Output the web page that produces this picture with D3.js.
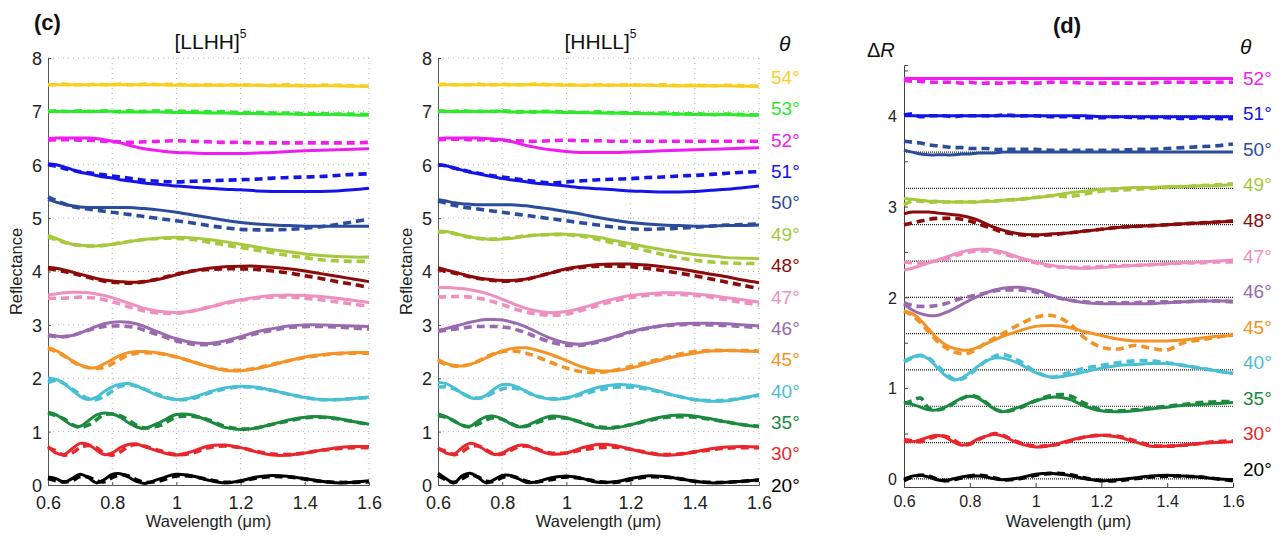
<!DOCTYPE html>
<html>
<head>
<meta charset="utf-8">
<script src="https://cdn.jsdelivr.net/npm/d3@7"></script>
<style>
  body { margin: 0; background: #fff; }
  svg { font-family: "Liberation Sans", Arial, sans-serif; }
</style>
</head>
<body>
<svg id="chart" width="1285" height="536"></svg>
<script>
// wavelength grid (um) shared by every curve
var wl = [0.6,0.625,0.65,0.675,0.7,0.725,0.75,0.775,0.8,0.825,0.85,0.875,0.9,0.95,1.0,1.05,1.1,1.15,1.2,1.25,1.3,1.35,1.4,1.45,1.5,1.55,1.6];

var anglesC = ["54°","53°","52°","51°","50°","49°","48°","47°","46°","45°","40°","35°","30°","20°"];
var colorsC = ["#f7cf1e","#2ee82e","#f01cf0","#1414e6","#2b4c9a","#a6c83c","#8b0a0a","#ee8fc0","#9a6aae","#f39325","#48bfd3","#1b8a3f","#e8262b","#000000"];
var anglesD = ["52°","51°","50°","49°","48°","47°","46°","45°","40°","35°","30°","20°"];
var colorsD = colorsC.slice(2);
var refD = [4.4,4.0,3.6,3.2,2.8,2.4,2.0,1.6,1.2,0.8,0.4,0];

var yTicksC = [0,1,2,3,4,5,6,7,8];
var xTicks = [0.6,0.8,1.0,1.2,1.4,1.6];
var yTicksD = [0,0.5,1,1.5,2,2.5,3,3.5,4,4.5];
var yLabelsD = [0,1,2,3,4];

// ---- (c) [LLHH]^5 : fit (solid) and measured (dashed)
var L54f = [7.50,7.50,7.50,7.50,7.50,7.50,7.50,7.50,7.50,7.50,7.50,7.50,7.50,7.50,7.49,7.49,7.49,7.49,7.49,7.49,7.48,7.48,7.48,7.48,7.48,7.47,7.47];
var L54m = [7.50,7.50,7.51,7.50,7.50,7.50,7.51,7.50,7.50,7.51,7.50,7.50,7.51,7.50,7.51,7.49,7.50,7.49,7.50,7.49,7.49,7.50,7.48,7.49,7.49,7.48,7.47];
var L53f = [7.00,7.00,7.00,7.00,7.00,7.00,7.00,7.00,7.00,6.99,6.99,6.99,6.99,6.99,6.98,6.98,6.97,6.97,6.96,6.96,6.95,6.95,6.94,6.94,6.94,6.93,6.93];
var L53m = [7.00,7.01,7.00,7.00,7.01,7.00,7.00,7.01,7.00,7.00,7.01,7.00,7.00,7.01,7.00,7.00,6.99,6.99,6.98,6.98,6.97,6.97,6.96,6.96,6.95,6.95,6.94];
var L52f = [6.49,6.50,6.50,6.50,6.50,6.50,6.49,6.47,6.44,6.41,6.37,6.33,6.30,6.26,6.23,6.22,6.21,6.21,6.21,6.22,6.23,6.25,6.26,6.27,6.28,6.29,6.30];
var L52m = [6.46,6.47,6.47,6.47,6.46,6.46,6.45,6.44,6.43,6.43,6.42,6.42,6.43,6.44,6.45,6.44,6.43,6.42,6.42,6.41,6.41,6.41,6.41,6.41,6.41,6.41,6.42];
var L51f = [6.02,6.00,5.96,5.91,5.86,5.83,5.80,5.77,5.75,5.72,5.70,5.68,5.66,5.63,5.60,5.58,5.56,5.54,5.53,5.51,5.50,5.50,5.50,5.50,5.51,5.53,5.56];
var L51m = [6.00,5.97,5.93,5.90,5.87,5.85,5.83,5.81,5.79,5.77,5.75,5.73,5.71,5.69,5.68,5.69,5.70,5.71,5.72,5.73,5.75,5.76,5.77,5.78,5.80,5.82,5.83];
var L50f = [5.35,5.30,5.26,5.23,5.21,5.20,5.20,5.20,5.20,5.20,5.20,5.19,5.18,5.15,5.11,5.06,5.01,4.96,4.92,4.89,4.87,4.86,4.85,4.85,4.85,4.85,4.85];
var L50m = [5.40,5.33,5.27,5.22,5.19,5.17,5.15,5.13,5.11,5.09,5.07,5.05,5.03,4.99,4.95,4.91,4.86,4.82,4.79,4.78,4.78,4.79,4.81,4.84,4.88,4.93,4.98];
var L49f = [4.68,4.62,4.56,4.51,4.49,4.48,4.48,4.49,4.51,4.53,4.56,4.58,4.60,4.63,4.64,4.63,4.60,4.56,4.51,4.46,4.41,4.37,4.33,4.30,4.28,4.27,4.27];
var L49m = [4.64,4.60,4.55,4.51,4.49,4.48,4.48,4.49,4.51,4.54,4.56,4.58,4.60,4.62,4.62,4.60,4.55,4.50,4.45,4.40,4.35,4.30,4.26,4.22,4.20,4.19,4.19];
var L48f = [4.08,4.06,4.03,3.99,3.95,3.91,3.87,3.84,3.82,3.81,3.80,3.80,3.81,3.86,3.94,4.01,4.06,4.09,4.10,4.10,4.08,4.05,4.01,3.96,3.91,3.86,3.81];
var L48m = [4.05,4.03,4.00,3.97,3.93,3.89,3.85,3.82,3.80,3.79,3.78,3.79,3.81,3.87,3.95,4.01,4.04,4.05,4.05,4.04,4.01,3.97,3.92,3.87,3.81,3.76,3.70];
var L47f = [3.56,3.58,3.60,3.61,3.61,3.60,3.58,3.55,3.51,3.46,3.41,3.36,3.31,3.25,3.23,3.26,3.33,3.41,3.47,3.52,3.55,3.56,3.55,3.53,3.50,3.46,3.42];
var L47m = [3.50,3.50,3.50,3.51,3.52,3.51,3.50,3.47,3.43,3.39,3.34,3.30,3.26,3.22,3.22,3.26,3.33,3.40,3.46,3.50,3.52,3.52,3.50,3.47,3.43,3.39,3.35];
var L46f = [2.82,2.79,2.78,2.80,2.85,2.91,2.97,3.02,3.05,3.06,3.05,3.02,2.97,2.85,2.74,2.67,2.65,2.70,2.78,2.87,2.93,2.98,3.00,3.00,2.99,2.98,2.97];
var L46m = [2.80,2.78,2.78,2.80,2.85,2.90,2.94,2.97,2.98,2.98,2.97,2.95,2.90,2.80,2.70,2.64,2.63,2.67,2.75,2.84,2.90,2.95,2.97,2.97,2.96,2.94,2.92];
var L45f = [2.58,2.52,2.43,2.33,2.25,2.20,2.20,2.27,2.35,2.43,2.48,2.50,2.50,2.47,2.40,2.31,2.22,2.15,2.14,2.18,2.25,2.33,2.40,2.44,2.47,2.48,2.48];
var L45m = [2.55,2.50,2.42,2.32,2.24,2.20,2.19,2.20,2.27,2.36,2.43,2.47,2.48,2.46,2.40,2.31,2.22,2.16,2.15,2.19,2.26,2.33,2.39,2.43,2.46,2.47,2.47];
var L40f = [2.00,1.98,1.90,1.78,1.66,1.60,1.64,1.75,1.84,1.89,1.90,1.86,1.79,1.66,1.60,1.64,1.74,1.82,1.85,1.83,1.77,1.70,1.64,1.60,1.60,1.62,1.65];
var L40m = [1.92,1.96,1.90,1.80,1.70,1.62,1.60,1.66,1.76,1.85,1.88,1.85,1.80,1.68,1.60,1.62,1.72,1.80,1.84,1.82,1.77,1.70,1.64,1.60,1.60,1.62,1.64];
var L35f = [1.37,1.32,1.22,1.12,1.10,1.20,1.31,1.35,1.33,1.27,1.17,1.09,1.06,1.18,1.32,1.31,1.20,1.08,1.04,1.07,1.14,1.22,1.27,1.28,1.25,1.19,1.14];
var L35m = [1.35,1.30,1.24,1.13,1.08,1.12,1.22,1.32,1.33,1.30,1.22,1.12,1.07,1.12,1.27,1.29,1.22,1.10,1.05,1.07,1.14,1.20,1.26,1.27,1.24,1.19,1.13];
var L30f = [0.72,0.60,0.57,0.68,0.78,0.76,0.66,0.57,0.60,0.70,0.76,0.77,0.72,0.62,0.56,0.63,0.73,0.75,0.70,0.62,0.56,0.56,0.60,0.65,0.70,0.72,0.72];
var L30m = [0.70,0.64,0.56,0.60,0.70,0.74,0.70,0.60,0.56,0.62,0.72,0.76,0.73,0.64,0.57,0.60,0.70,0.73,0.70,0.63,0.58,0.57,0.60,0.65,0.68,0.70,0.70];
var L20f = [0.15,0.12,0.05,0.12,0.20,0.14,0.04,0.10,0.20,0.21,0.15,0.07,0.03,0.12,0.20,0.17,0.09,0.04,0.08,0.15,0.18,0.16,0.12,0.07,0.04,0.05,0.08];
var L20m = [0.12,0.08,0.06,0.08,0.16,0.15,0.08,0.06,0.14,0.19,0.17,0.10,0.05,0.08,0.17,0.16,0.10,0.05,0.07,0.13,0.16,0.15,0.11,0.07,0.05,0.05,0.06];

// ---- (c) [HHLL]^5
var H54f = L54f;
var H54m = [7.50,7.51,7.50,7.50,7.50,7.51,7.50,7.50,7.51,7.50,7.50,7.50,7.51,7.50,7.50,7.49,7.50,7.49,7.50,7.49,7.50,7.48,7.49,7.48,7.49,7.48,7.47];
var H53f = L53f;
var H53m = [7.01,7.00,7.00,7.01,7.00,7.00,7.00,7.00,7.01,7.00,6.99,7.00,6.99,7.00,6.99,6.98,6.99,6.97,6.98,6.96,6.97,6.95,6.96,6.94,6.95,6.94,6.93];
var H52f = [6.49,6.50,6.50,6.50,6.50,6.50,6.49,6.48,6.47,6.44,6.40,6.36,6.33,6.28,6.25,6.23,6.23,6.23,6.24,6.25,6.26,6.27,6.28,6.29,6.30,6.31,6.32];
var H52m = [6.47,6.48,6.48,6.48,6.47,6.47,6.47,6.46,6.46,6.45,6.45,6.44,6.44,6.45,6.46,6.45,6.45,6.44,6.44,6.44,6.44,6.44,6.44,6.44,6.44,6.44,6.44];
var H51f = [6.00,5.98,5.94,5.90,5.86,5.83,5.80,5.77,5.74,5.72,5.70,5.68,5.66,5.63,5.60,5.57,5.55,5.53,5.51,5.50,5.49,5.49,5.50,5.52,5.54,5.57,5.60];
var H51m = [6.00,5.98,5.94,5.90,5.87,5.84,5.81,5.79,5.77,5.75,5.73,5.71,5.69,5.66,5.68,5.70,5.72,5.73,5.74,5.76,5.77,5.79,5.80,5.82,5.84,5.86,5.87];
var H50f = [5.35,5.32,5.29,5.27,5.26,5.25,5.25,5.25,5.25,5.25,5.24,5.23,5.21,5.17,5.12,5.07,5.01,4.96,4.92,4.89,4.87,4.86,4.85,4.85,4.86,4.86,4.87];
var H50m = [5.32,5.28,5.24,5.21,5.19,5.17,5.15,5.13,5.11,5.09,5.07,5.05,5.03,4.99,4.95,4.91,4.87,4.83,4.80,4.79,4.80,4.81,4.83,4.85,4.87,4.88,4.89];
var H49f = [4.76,4.75,4.72,4.68,4.65,4.62,4.61,4.60,4.61,4.62,4.64,4.66,4.68,4.70,4.70,4.68,4.64,4.58,4.52,4.46,4.41,4.36,4.32,4.29,4.26,4.25,4.24];
var H49m = [4.74,4.74,4.71,4.67,4.64,4.62,4.61,4.61,4.62,4.63,4.65,4.67,4.68,4.69,4.69,4.66,4.60,4.53,4.46,4.39,4.32,4.26,4.21,4.18,4.16,4.15,4.15];
var H48f = [4.07,4.03,3.99,3.95,3.91,3.88,3.86,3.84,3.83,3.83,3.84,3.86,3.89,3.97,4.05,4.10,4.13,4.14,4.14,4.12,4.09,4.05,4.00,3.95,3.90,3.84,3.79];
var H48m = [4.04,4.00,3.97,3.94,3.90,3.87,3.85,3.83,3.82,3.82,3.83,3.85,3.89,3.97,4.04,4.08,4.10,4.10,4.09,4.06,4.02,3.97,3.92,3.86,3.80,3.74,3.68];
var H47f = [3.70,3.70,3.69,3.68,3.66,3.63,3.59,3.54,3.48,3.42,3.36,3.31,3.27,3.23,3.25,3.32,3.41,3.49,3.55,3.58,3.60,3.60,3.58,3.55,3.51,3.47,3.43];
var H47m = [3.52,3.53,3.53,3.53,3.52,3.50,3.47,3.43,3.38,3.33,3.28,3.24,3.21,3.18,3.20,3.28,3.37,3.45,3.51,3.55,3.57,3.57,3.55,3.52,3.47,3.42,3.37];
var H46f = [2.90,2.93,2.97,3.01,3.05,3.08,3.10,3.10,3.09,3.06,3.02,2.96,2.89,2.75,2.66,2.64,2.70,2.78,2.87,2.94,2.99,3.02,3.03,3.03,3.02,3.00,2.98];
var H46m = [2.88,2.90,2.92,2.94,2.96,2.97,2.97,2.97,2.96,2.94,2.90,2.85,2.79,2.68,2.62,2.62,2.68,2.77,2.86,2.93,2.98,3.00,3.01,3.00,2.99,2.97,2.95];
var H45f = [2.35,2.28,2.24,2.23,2.26,2.31,2.38,2.45,2.51,2.55,2.57,2.57,2.54,2.45,2.33,2.21,2.14,2.14,2.19,2.27,2.35,2.42,2.47,2.51,2.52,2.51,2.50];
var H45m = [2.32,2.26,2.23,2.23,2.26,2.32,2.40,2.46,2.50,2.51,2.50,2.47,2.42,2.30,2.19,2.12,2.11,2.15,2.22,2.30,2.37,2.45,2.50,2.52,2.52,2.52,2.51];
var H40f = [1.92,1.90,1.82,1.72,1.64,1.62,1.68,1.80,1.88,1.88,1.83,1.75,1.68,1.61,1.63,1.73,1.83,1.88,1.87,1.82,1.74,1.66,1.60,1.57,1.58,1.63,1.69];
var H40m = [1.83,1.84,1.80,1.72,1.65,1.63,1.66,1.74,1.80,1.82,1.80,1.75,1.68,1.62,1.63,1.70,1.78,1.83,1.83,1.80,1.73,1.66,1.60,1.58,1.59,1.63,1.68];
var H35f = [1.33,1.28,1.20,1.12,1.10,1.20,1.28,1.29,1.24,1.15,1.09,1.11,1.18,1.29,1.26,1.16,1.07,1.07,1.13,1.21,1.28,1.31,1.29,1.24,1.18,1.13,1.09];
var H35m = [1.30,1.27,1.20,1.12,1.09,1.14,1.22,1.26,1.23,1.16,1.10,1.10,1.15,1.25,1.25,1.17,1.09,1.08,1.13,1.20,1.26,1.28,1.27,1.23,1.18,1.13,1.10];
var H30f = [0.70,0.60,0.58,0.70,0.78,0.74,0.64,0.57,0.60,0.68,0.74,0.74,0.68,0.58,0.60,0.70,0.76,0.74,0.67,0.60,0.56,0.57,0.62,0.68,0.71,0.72,0.71];
var H30m = [0.68,0.63,0.57,0.62,0.72,0.73,0.66,0.58,0.58,0.65,0.71,0.73,0.69,0.60,0.60,0.66,0.70,0.71,0.67,0.61,0.57,0.58,0.62,0.66,0.69,0.70,0.70];
var H20f = [0.22,0.12,0.04,0.17,0.22,0.14,0.04,0.10,0.18,0.18,0.12,0.05,0.05,0.13,0.17,0.12,0.05,0.06,0.12,0.17,0.16,0.12,0.07,0.04,0.05,0.07,0.10];
var H20m = [0.18,0.10,0.05,0.12,0.19,0.15,0.07,0.07,0.14,0.17,0.13,0.07,0.05,0.10,0.15,0.12,0.06,0.05,0.10,0.15,0.15,0.12,0.07,0.05,0.05,0.07,0.09];

// ---- (d) delta R, offset curves
var D52f = [4.41,4.41,4.41,4.41,4.41,4.41,4.41,4.41,4.41,4.41,4.41,4.41,4.41,4.41,4.41,4.41,4.41,4.41,4.41,4.41,4.41,4.41,4.41,4.41,4.41,4.41,4.41];
var D52m = [4.39,4.38,4.38,4.37,4.37,4.37,4.37,4.36,4.37,4.36,4.36,4.36,4.36,4.37,4.36,4.37,4.37,4.36,4.36,4.36,4.36,4.36,4.37,4.37,4.37,4.37,4.37];
var D51f = [4.00,4.00,4.00,4.00,4.00,4.00,4.00,4.00,4.00,4.00,4.00,4.00,4.00,4.00,4.00,4.00,4.00,4.00,3.99,3.99,3.99,3.99,3.99,3.99,3.99,3.99,3.99];
var D51m = [4.01,4.02,3.99,4.00,4.00,4.00,3.99,4.00,4.00,4.00,4.00,4.00,4.01,4.00,4.00,3.99,3.99,3.98,3.98,3.99,3.98,3.98,3.98,3.97,3.98,3.97,3.97];
var D50f = [3.62,3.60,3.58,3.57,3.57,3.57,3.57,3.58,3.58,3.59,3.59,3.59,3.60,3.60,3.60,3.60,3.60,3.60,3.60,3.60,3.60,3.60,3.60,3.60,3.60,3.60,3.60];
var D50m = [3.72,3.71,3.70,3.68,3.67,3.66,3.65,3.65,3.64,3.64,3.64,3.63,3.63,3.63,3.63,3.62,3.62,3.62,3.62,3.62,3.63,3.63,3.64,3.65,3.66,3.67,3.69];
var D49f = [3.09,3.08,3.07,3.06,3.06,3.05,3.05,3.05,3.05,3.05,3.06,3.06,3.07,3.08,3.10,3.12,3.15,3.17,3.19,3.20,3.21,3.21,3.22,3.22,3.23,3.23,3.24];
var D49m = [3.02,3.06,3.06,3.05,3.05,3.05,3.05,3.05,3.05,3.05,3.06,3.06,3.07,3.08,3.10,3.12,3.11,3.14,3.17,3.18,3.19,3.20,3.21,3.22,3.23,3.24,3.25];
var D48f = [2.92,2.94,2.94,2.94,2.93,2.92,2.91,2.90,2.88,2.85,2.81,2.77,2.74,2.70,2.69,2.70,2.71,2.73,2.75,2.77,2.78,2.79,2.80,2.81,2.82,2.83,2.84];
var D48m = [2.80,2.82,2.84,2.86,2.87,2.87,2.87,2.86,2.84,2.81,2.78,2.75,2.72,2.69,2.68,2.69,2.71,2.73,2.75,2.77,2.78,2.79,2.80,2.81,2.82,2.83,2.84];
var D47f = [2.30,2.32,2.35,2.38,2.41,2.44,2.47,2.50,2.52,2.53,2.53,2.52,2.50,2.44,2.39,2.35,2.33,2.32,2.33,2.34,2.35,2.36,2.37,2.38,2.39,2.40,2.41];
var D47m = [2.39,2.38,2.38,2.39,2.40,2.42,2.45,2.48,2.50,2.51,2.51,2.50,2.48,2.43,2.38,2.34,2.33,2.33,2.34,2.35,2.35,2.36,2.37,2.38,2.38,2.39,2.39];
var D46f = [1.92,1.86,1.82,1.80,1.80,1.83,1.87,1.92,1.97,2.01,2.05,2.08,2.10,2.11,2.08,2.02,1.97,1.94,1.93,1.93,1.93,1.93,1.94,1.95,1.96,1.96,1.96];
var D46m = [1.94,1.91,1.90,1.90,1.91,1.93,1.96,1.99,2.01,2.03,2.05,2.07,2.08,2.08,2.06,2.01,1.97,1.95,1.94,1.94,1.94,1.95,1.95,1.95,1.96,1.96,1.95];
var D45f = [1.85,1.82,1.75,1.65,1.55,1.48,1.44,1.42,1.42,1.45,1.49,1.53,1.57,1.63,1.68,1.69,1.67,1.62,1.58,1.54,1.52,1.52,1.52,1.53,1.55,1.57,1.58];
var D45m = [1.85,1.80,1.72,1.62,1.52,1.45,1.40,1.38,1.39,1.44,1.50,1.55,1.60,1.70,1.78,1.80,1.72,1.55,1.45,1.43,1.47,1.44,1.42,1.50,1.53,1.56,1.59];
var D40f = [1.30,1.34,1.36,1.32,1.23,1.14,1.09,1.11,1.17,1.24,1.30,1.33,1.33,1.27,1.17,1.12,1.14,1.18,1.22,1.25,1.26,1.27,1.27,1.25,1.22,1.19,1.16];
var D40m = [1.29,1.33,1.36,1.33,1.25,1.17,1.10,1.10,1.15,1.23,1.30,1.35,1.37,1.30,1.18,1.12,1.17,1.22,1.25,1.28,1.30,1.30,1.28,1.25,1.22,1.19,1.16];
var D35f = [0.84,0.82,0.79,0.76,0.76,0.79,0.84,0.89,0.91,0.89,0.83,0.77,0.74,0.79,0.86,0.90,0.88,0.80,0.75,0.74,0.75,0.77,0.79,0.81,0.82,0.83,0.84];
var D35m = [0.83,0.86,0.89,0.78,0.76,0.78,0.83,0.88,0.92,0.90,0.84,0.77,0.74,0.78,0.86,0.92,0.92,0.83,0.76,0.75,0.76,0.78,0.80,0.82,0.84,0.85,0.85];
var D30f = [0.41,0.41,0.43,0.46,0.48,0.46,0.41,0.37,0.39,0.44,0.47,0.49,0.47,0.39,0.35,0.37,0.42,0.46,0.48,0.46,0.41,0.36,0.36,0.37,0.39,0.40,0.41];
var D30m = [0.43,0.42,0.41,0.44,0.47,0.47,0.43,0.38,0.38,0.43,0.47,0.50,0.48,0.40,0.36,0.37,0.41,0.46,0.48,0.47,0.42,0.37,0.36,0.37,0.39,0.41,0.42];
var D20f = [0.00,0.03,0.04,0.02,-0.01,-0.02,0.00,0.02,0.03,0.03,0.02,0.00,-0.01,0.01,0.05,0.06,0.04,0.00,-0.02,-0.01,0.01,0.03,0.04,0.03,0.02,0.00,-0.01];
var D20m = [-0.02,0.02,0.04,0.03,0.00,-0.02,-0.01,0.01,0.03,0.04,0.03,0.01,-0.01,0.00,0.04,0.06,0.05,0.01,-0.02,-0.02,0.00,0.02,0.03,0.03,0.02,0.00,-0.02];

var llhhFit  = [L54f,L53f,L52f,L51f,L50f,L49f,L48f,L47f,L46f,L45f,L40f,L35f,L30f,L20f];
var llhhMeas = [L54m,L53m,L52m,L51m,L50m,L49m,L48m,L47m,L46m,L45m,L40m,L35m,L30m,L20m];
var hhllFit  = [H54f,H53f,H52f,H51f,H50f,H49f,H48f,H47f,H46f,H45f,H40f,H35f,H30f,H20f];
var hhllMeas = [H54m,H53m,H52m,H51m,H50m,H49m,H48m,H47m,H46m,H45m,H40m,H35m,H30m,H20m];
var dFit  = [D52f,D51f,D50f,D49f,D48f,D47f,D46f,D45f,D40f,D35f,D30f,D20f];
var dMeas = [D52m,D51m,D50m,D49m,D48m,D47m,D46m,D45m,D40m,D35m,D30m,D20m];

var svg = d3.select("#chart");
svg.append("rect").attr("width",1285).attr("height",536).attr("fill","#fff");
var fmt = d3.format("~g");

function drawCurves(g, x, y, fit, meas, colors)
{
    var line = d3.line()
        .x(function(d,i){ return x(wl[i]); })
        .y(function(d){ return y(d); })
        .curve(d3.curveCatmullRom.alpha(0.5));
    meas.forEach(function(s,k){
        g.append("path").attr("d", line(s)).attr("fill","none")
            .attr("stroke", colors[k]).attr("stroke-width", 3.6)
            .attr("stroke-dasharray", "8,5");
    });
    fit.forEach(function(s,k){
        g.append("path").attr("d", line(s)).attr("fill","none")
            .attr("stroke", colors[k]).attr("stroke-width", 3);
    });
}

function panelC(left, right, top, bottom, title, fit, meas)
{
    var x = d3.scaleLinear().domain([0.6,1.6]).range([left,right]);
    var y = d3.scaleLinear().domain([0,8]).range([bottom,top]);
    var g = svg.append("g");

    // dotted grid
    g.selectAll(".gx").data(xTicks.slice(1)).join("line")
        .attr("x1",d=>x(d)).attr("x2",d=>x(d)).attr("y1",top).attr("y2",bottom)
        .attr("stroke","#b0b0b0").attr("stroke-dasharray","1,4");
    g.selectAll(".gy").data(yTicksC.slice(1)).join("line")
        .attr("x1",left).attr("x2",right).attr("y1",d=>y(d)).attr("y2",d=>y(d))
        .attr("stroke","#b0b0b0").attr("stroke-dasharray","1,4");

    var ax = g.append("g").attr("transform","translate(0,"+bottom+")")
        .call(d3.axisBottom(x).tickValues(xTicks).tickFormat(fmt).tickSize(-3).tickPadding(7));
    var ay = g.append("g").attr("transform","translate("+left+",0)")
        .call(d3.axisLeft(y).tickValues(yTicksC).tickFormat(fmt).tickSize(-3).tickPadding(6));
    [ax,ay].forEach(function(a){
        a.select(".domain").attr("stroke","#555");
        a.selectAll(".tick line").attr("stroke","#555");
        a.selectAll("text").attr("font-size",18).attr("fill","#222")
            .attr("font-family","Liberation Sans, Arial, sans-serif");
    });
    ax.selectAll("text").attr("dy","0.95em");
    ay.selectAll("text").attr("dy","0.36em");

    drawCurves(g, x, y, fit, meas, colorsC);

    var mid = (left+right)/2;
    var t = g.append("text").attr("x",mid+2).attr("y",49).attr("text-anchor","middle")
        .attr("font-size",21).attr("fill","#111");
    t.append("tspan").text(title);
    t.append("tspan").attr("font-size",12).attr("dy",-11).text("5");

    g.append("text").attr("transform","translate("+(left-26)+","+((top+bottom)/2)+") rotate(-90)")
        .attr("text-anchor","middle").attr("font-size",16.5).attr("fill","#222").text("Reflectance");
    g.append("text").attr("x",mid).attr("y",527).attr("text-anchor","middle")
        .attr("font-size",16.5).attr("fill","#222").text("Wavelength (μm)");
}

panelC(48, 369, 58, 485, "[LLHH]", llhhFit, llhhMeas);
panelC(438, 759, 58, 485, "[HHLL]", hhllFit, hhllMeas);

// angle labels for (c)
var labC = d3.scalePoint().domain(anglesC).range([77,485]);
svg.selectAll(".labc").data(anglesC).join("text")
    .attr("x",771).attr("y",d=>labC(d)).attr("dy","0.36em")
    .attr("font-size",19).attr("fill",(d,i)=>colorsC[i]).text(d=>d);
svg.append("text").attr("x",779).attr("y",51).attr("font-size",21)
    .attr("font-style","italic").attr("fill","#111").text("θ");
svg.append("text").attr("x",34).attr("y",30).attr("font-size",22)
    .attr("font-weight","bold").attr("fill","#111").text("(c)");

// ---- panel (d)
(function(){
    var left = 904, right = 1233, top = 65, bottom = 487;
    var x = d3.scaleLinear().domain([0.6,1.6]).range([left,right]);
    var y = d3.scaleLinear().domain([-0.09,4.56]).range([bottom,top]);
    var g = svg.append("g");

    g.selectAll(".ref").data(refD).join("line")
        .attr("x1",left).attr("x2",right).attr("y1",d=>y(d)).attr("y2",d=>y(d))
        .attr("stroke","#222").attr("stroke-width",1.2).attr("stroke-dasharray","1,1");

    var ax = g.append("g").attr("transform","translate(0,"+bottom+")")
        .call(d3.axisBottom(x).tickValues(xTicks).tickFormat(fmt).tickSize(-4).tickPadding(6));
    var ay = g.append("g").attr("transform","translate("+left+",0)")
        .call(d3.axisLeft(y).tickValues(yTicksD).tickFormat(d => yLabelsD.indexOf(d) >= 0 ? fmt(d) : "")
            .tickSize(-4).tickPadding(7));
    [ax,ay].forEach(function(a){
        a.select(".domain").attr("stroke","#444");
        a.selectAll(".tick line").attr("stroke","#444");
        a.selectAll("text").attr("font-size",16).attr("fill","#222")
            .attr("font-family","Liberation Sans, Arial, sans-serif");
    });
    ax.selectAll("text").attr("dy","0.9em");
    ay.selectAll("text").attr("dy","0.36em");

    drawCurves(g, x, y, dFit, dMeas, colorsD);

    var lab = d3.scalePoint().domain(anglesD).range([78,469]);
    g.selectAll(".labd").data(anglesD).join("text")
        .attr("x",1243).attr("y",d=>lab(d)).attr("dy","0.36em")
        .attr("font-size",19).attr("fill",(d,i)=>colorsD[i]).text(d=>d);

    g.append("text").attr("x",(left+right)/2).attr("y",527).attr("text-anchor","middle")
        .attr("font-size",16.5).attr("fill","#222").text("Wavelength (μm)");
    var dr = g.append("text").attr("x",867).attr("y",57).attr("font-size",20).attr("fill","#111");
    dr.append("tspan").text("Δ");
    dr.append("tspan").attr("font-style","italic").text("R");
    g.append("text").attr("x",1240).attr("y",54).attr("font-size",21)
        .attr("font-style","italic").attr("fill","#111").text("θ");
    g.append("text").attr("x",1053).attr("y",33).attr("font-size",22)
        .attr("font-weight","bold").attr("fill","#111").text("(d)");
})();
</script>
</body>
</html>
